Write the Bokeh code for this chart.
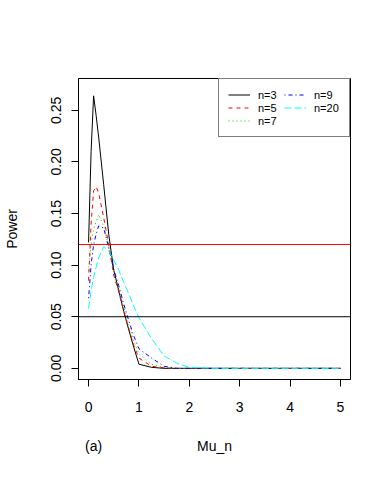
from bokeh.plotting import figure
from bokeh.models import (Range1d, FixedTicker, Span, Legend, LegendItem, LinearAxis,
                          PrintfTickFormatter)
from bokeh.embed import file_html
from bokeh.resources import INLINE

# Data
mu_n = [0, 0.05, 0.1, 0.15, 0.2, 0.3, 0.4, 0.5, 0.6, 0.7, 0.8, 0.9, 1.0,
        1.25, 1.5, 1.75, 2.0, 2.5, 3.0, 3.5, 4.0, 4.5, 5.0]
power_n3 = [0.122, 0.21, 0.264, 0.245, 0.224, 0.178, 0.13, 0.095, 0.075, 0.055, 0.037, 0.02, 0.004,
            0.001, 0.0, 0.0, 0.0, 0.0, 0.0, 0.0, 0.0, 0.0, 0.0]
power_n5 = [0.085, 0.14, 0.172, 0.176, 0.17, 0.146, 0.12, 0.09, 0.074, 0.055, 0.038, 0.022, 0.01,
            0.002, 0.0005, 0.0, 0.0, 0.0, 0.0, 0.0, 0.0, 0.0, 0.0]
power_n7 = [0.094, 0.12, 0.135, 0.142, 0.149, 0.138, 0.118, 0.093, 0.077, 0.059, 0.042, 0.026, 0.014,
            0.004, 0.001, 0.0, 0.0, 0.0, 0.0, 0.0, 0.0, 0.0, 0.0]
power_n9 = [0.068, 0.1, 0.12, 0.13, 0.138, 0.136, 0.117, 0.096, 0.08, 0.062, 0.046, 0.031, 0.019,
            0.01, 0.002, 0.0, 0.0, 0.0, 0.0, 0.0, 0.0, 0.0, 0.0]
power_n20 = [0.058, 0.075, 0.088, 0.098, 0.107, 0.118, 0.114, 0.105, 0.095, 0.083, 0.072, 0.06, 0.049,
             0.029, 0.012, 0.005, 0.001, 0.0, 0.0, 0.0, 0.0, 0.0, 0.0]
series_labels = ["n=3", "n=5", "n=7", "n=9", "n=20"]
alpha_level = 0.05
ref_level = 0.12
x_ticks = [0, 1, 2, 3, 4, 5]
y_ticks = [0.0, 0.05, 0.10, 0.15, 0.20, 0.25]
x_title = "Mu_n"
panel_tag = "(a)"

FONT = "Liberation Sans"

p = figure(width=375, height=461, output_backend="svg", toolbar_location=None,
           x_range=Range1d(-0.2, 5.2), y_range=Range1d(-0.0108, 0.2808),
           min_border_left=78, min_border_right=25, min_border_top=78, min_border_bottom=82,
           background_fill_color="white", border_fill_color="white")
p.grid.visible = False
p.outline_line_color = "black"
p.outline_line_width = 1

for ax in (p.xaxis[0], p.yaxis[0]):
    ax.major_tick_out = 7
    ax.major_tick_in = 0
    ax.minor_tick_line_color = None
    ax.axis_line_color = "black"
    ax.major_tick_line_color = "black"
    ax.major_label_text_font = FONT
    ax.major_label_text_font_size = "14px"
    ax.major_label_text_color = "black"
    ax.axis_label_text_font = FONT
    ax.axis_label_text_font_size = "14px"
    ax.axis_label_text_font_style = "normal"
    ax.axis_label_text_color = "black"

p.xaxis[0].ticker = FixedTicker(ticks=x_ticks)
p.xaxis[0].major_label_standoff = 15

# second, tick-less axis carrying the x title and the panel tag on one line
title_axis = LinearAxis(ticker=FixedTicker(ticks=[0.1, 2.5]),
                        major_label_overrides={0.1: panel_tag, 2.5: x_title},
                        axis_line_color=None, major_tick_line_color=None,
                        minor_tick_line_color=None, major_tick_out=0, major_tick_in=0,
                        major_label_standoff=23,
                        major_label_text_font=FONT, major_label_text_font_size="14px",
                        major_label_text_color="black")
p.add_layout(title_axis, "below")

p.yaxis[0].ticker = FixedTicker(ticks=y_ticks)
p.yaxis[0].formatter = PrintfTickFormatter(format="%.2f")
p.yaxis[0].major_label_orientation = "vertical"
p.yaxis[0].major_label_standoff = 10
p.yaxis[0].axis_label = "Power"
p.yaxis[0].axis_label_standoff = 29

r3 = p.line(mu_n, power_n3, line_color="black", line_width=1)
r5 = p.line(mu_n, power_n5, line_color="red", line_width=1, line_dash="4 4")
r7 = p.line(mu_n, power_n7, line_color="#00CD00", line_width=1, line_dash="1 3")
r9 = p.line(mu_n, power_n9, line_color="blue", line_width=1, line_dash="1 3 4 3")
r20 = p.line(mu_n, power_n20, line_color="cyan", line_width=1, line_dash="7 3")

p.add_layout(Span(location=alpha_level, dimension="width", line_color="black", line_width=1))
p.add_layout(Span(location=ref_level, dimension="width", line_color="red", line_width=1))

legend = Legend(items=[LegendItem(label=l, renderers=[r]) for l, r in
                       zip(series_labels, [r3, r5, r7, r9, r20])],
                location="top_right", nrows=3, margin=0, padding=9, spacing=0,
                label_text_font=FONT, label_text_font_size="11px", label_text_color="black",
                glyph_width=22, glyph_height=13, label_height=13, label_width=26,
                label_standoff=8,
                border_line_color="black", border_line_width=1,
                background_fill_color="white", background_fill_alpha=1)
p.add_layout(legend)

open("out.html", "w").write(file_html(p, INLINE))
